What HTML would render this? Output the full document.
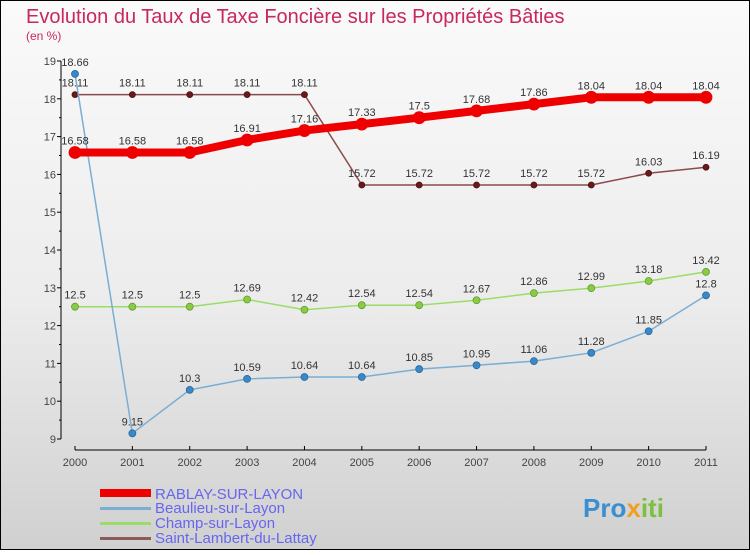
<!DOCTYPE html>
<html><head><meta charset="utf-8"><style>
body{margin:0;width:750px;height:550px;overflow:hidden;font-family:"Liberation Sans",sans-serif}
svg text{font-family:"Liberation Sans",sans-serif}
</style></head><body>
<svg id="c" width="750" height="550" xmlns="http://www.w3.org/2000/svg">
<defs><linearGradient id="bg" x1="0" y1="0" x2="0" y2="1"><stop offset="0" stop-color="#fafafa"/><stop offset="0.55" stop-color="#ececec"/><stop offset="1" stop-color="#d0d0d0"/></linearGradient></defs>
<rect x="0.5" y="0.5" width="749" height="549" fill="url(#bg)" stroke="#000"/>
<text x="26" y="23" font-size="20" fill="#c8285a">Evolution du Taux de Taxe Foncière sur les Propriétés Bâties</text>
<text x="26" y="40" font-size="12" fill="#c8285a">(en %)</text>
<g id="axes"></g><g id="series"></g>
<g>
<rect x="100" y="489" width="51" height="8" fill="#e00"/>
<text x="155" y="499" font-size="15" fill="#6666ee">RABLAY-SUR-LAYON</text>
<rect x="100" y="507" width="51" height="3" fill="#7aaed4"/>
<text x="155" y="513" font-size="15" fill="#6666ee">Beaulieu-sur-Layon</text>
<rect x="100" y="522" width="51" height="3" fill="#99dd66"/>
<text x="155" y="528" font-size="15" fill="#6666ee">Champ-sur-Layon</text>
<rect x="100" y="537" width="51" height="3" fill="#8b5a5a"/>
<text x="155" y="543" font-size="15" fill="#6666ee">Saint-Lambert-du-Lattay</text>
</g>
<text x="583" y="517" font-size="26" font-weight="bold" fill="#3a8fd0">Pro<tspan fill="#f0a020">x</tspan><tspan fill="#7cc040">iti</tspan></text>
</svg>
<script>
const years=[2000,2001,2002,2003,2004,2005,2006,2007,2008,2009,2010,2011];
const yTicks=[9,10,11,12,13,14,15,16,17,18,19];
const rablay=[16.58,16.58,16.58,16.91,17.16,17.33,17.5,17.68,17.86,18.04,18.04,18.04];
const beaulieu=[18.66,9.15,10.3,10.59,10.64,10.64,10.85,10.95,11.06,11.28,11.85,12.8];
const champ=[12.5,12.5,12.5,12.69,12.42,12.54,12.54,12.67,12.86,12.99,13.18,13.42];
const stlambert=[18.11,18.11,18.11,18.11,18.11,15.72,15.72,15.72,15.72,15.72,16.03,16.19];
const NS="http://www.w3.org/2000/svg";
const X=i=>75+i*(706-75)/(years.length-1);
const Y=v=>439-(v-9)*(439-61)/10;
function mk(p,t,a){const e=document.createElementNS(NS,t);for(const k in a)e.setAttribute(k,a[k]);p.appendChild(e);return e;}
const ax=document.getElementById('axes');
let l=mk(ax,'line',{x1:61,y1:61,x2:61,y2:439,stroke:'#000'});


l=mk(ax,'line',{x1:75,y1:450,x2:706,y2:450,stroke:'#000'});


yTicks.forEach(v=>{
 mk(ax,'line',{x1:57,y1:Y(v),x2:61,y2:Y(v),stroke:'#000'});
 if(v<19)mk(ax,'line',{x1:59,y1:Y(v+0.5),x2:61,y2:Y(v+0.5),stroke:'#000'});
 const t=mk(ax,'text',{x:56,y:Y(v)+4,'font-size':11,'text-anchor':'end',fill:'#444'});t.textContent=v;
 
 
});
years.forEach((y,i)=>{
 mk(ax,'line',{x1:X(i),y1:446,x2:X(i),y2:450,stroke:'#000'});
 const t=mk(ax,'text',{x:X(i),y:466,'font-size':11,'text-anchor':'middle',fill:'#444'});t.textContent=y;
 
 
});
const sg=document.getElementById('series');
function series(name,vals,color,w,r,dot,dotStroke){
 const g=mk(sg,'g',{});
 
 
 const p=mk(g,'polyline',{points:vals.map((v,i)=>X(i)+','+Y(v)).join(' '),fill:'none',stroke:color,'stroke-width':w,'stroke-linejoin':'round'});
 
 
 vals.forEach((v,i)=>{
  const c=mk(g,'circle',{cx:X(i),cy:Y(v),r:r,fill:dot,stroke:dotStroke,'stroke-width':0.8});
  
  
  const t=mk(g,'text',{x:X(i),y:Y(v)-8,'font-size':11,'text-anchor':'middle',fill:'#333'});t.textContent=v;
  
  
 });
}
series('saint-lambert',stlambert,'#8b4a4a',1.5,3,'#6b1a1a','#4a1010');
series('champ',champ,'#99dd66',1.5,3.5,'#88cc44','#669933');
series('beaulieu',beaulieu,'#7aaed4',1.5,3.5,'#3a88c8','#2a6a9a');
series('rablay',rablay,'#ee0000',8,6,'#ee0000','#ee0000');
</script>
</body></html>
